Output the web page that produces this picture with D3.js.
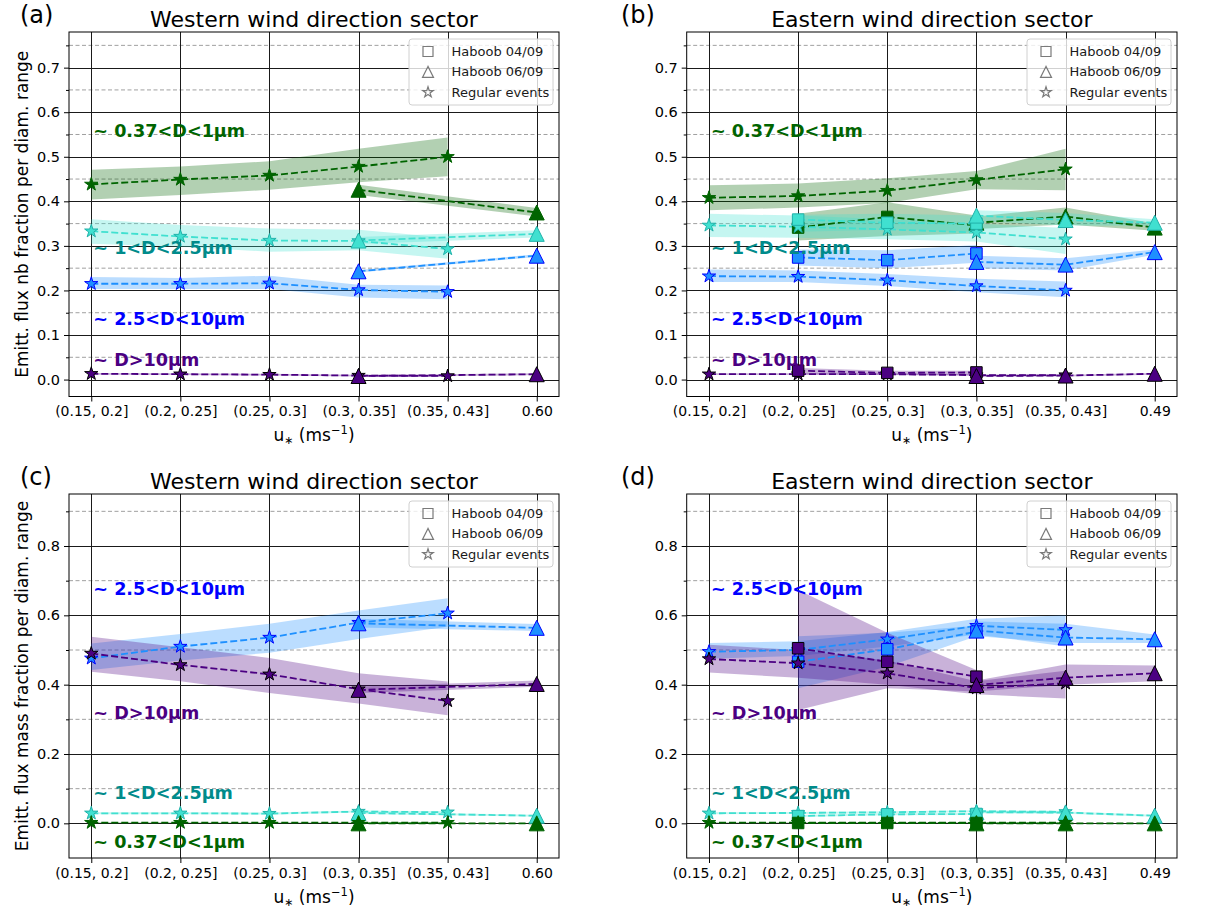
<!DOCTYPE html>
<html><head><meta charset="utf-8">
<script src="https://cdn.jsdelivr.net/npm/d3@7"></script>
<style>
body{margin:0;background:#fff;}
text{font-family:"DejaVu Sans",sans-serif;}
</style>
</head><body>
<svg id="fig" width="1214" height="911"></svg>
<script>
// ---------------- DATA ----------------
const categoriesWest = ["(0.15, 0.2]", "(0.2, 0.25]", "(0.25, 0.3]", "(0.3, 0.35]", "(0.35, 0.43]", "0.60"];
const categoriesEast = ["(0.15, 0.2]", "(0.2, 0.25]", "(0.25, 0.3]", "(0.3, 0.35]", "(0.35, 0.43]", "0.49"];
const yTicksNumber = [0.0, 0.1, 0.2, 0.3, 0.4, 0.5, 0.6, 0.7];
const yMinorNumber = [0.05, 0.15, 0.25, 0.35, 0.45, 0.55, 0.65, 0.75];
const yTicksMass = [0.0, 0.2, 0.4, 0.6, 0.8];
const yMinorMass = [0.1, 0.3, 0.5, 0.7, 0.9];
const classLabels = ["~ 0.37<D<1µm", "~ 1<D<2.5µm", "~ 2.5<D<10µm", "~ D>10µm"];
const eventNames = ["Haboob 04/09", "Haboob 06/09", "Regular events"];
// label anchor (data y) per size class
const labelYNumber = [0.557, 0.295, 0.135, 0.043];
const labelYMass = [-0.055, 0.087, 0.676, 0.317];

// cls: 0=0.37-1, 1=1-2.5, 2=2.5-10, 3=>10 ; ev: 0=Haboob 04/09 (square), 1=Haboob 06/09 (triangle), 2=Regular (star)
const numberWest = [
  {cls:0, ev:2, x:[0,1,2,3,4], v:[0.438,0.449,0.458,0.478,0.500], lo:[0.404,0.414,0.426,0.443,0.456], hi:[0.471,0.478,0.490,0.518,0.543]},
  {cls:0, ev:1, x:[3,5], v:[0.426,0.375], lo:[0.414,0.366], hi:[0.437,0.385]},
  {cls:1, ev:2, x:[0,1,2,3,4], v:[0.333,0.321,0.312,0.311,0.293], lo:[0.305,0.298,0.287,0.290,0.271], hi:[0.360,0.347,0.339,0.336,0.318]},
  {cls:1, ev:1, x:[3,5], v:[0.312,0.327], lo:[0.304,0.319], hi:[0.320,0.335]},
  {cls:2, ev:2, x:[0,1,2,3,4], v:[0.215,0.215,0.216,0.201,0.197], lo:[0.203,0.203,0.203,0.184,0.180], hi:[0.230,0.228,0.233,0.213,0.211]},
  {cls:2, ev:1, x:[3,5], v:[0.243,0.278], lo:[0.240,0.275], hi:[0.246,0.281]},
  {cls:3, ev:2, x:[0,1,2,3,4], v:[0.013,0.012,0.011,0.009,0.008], lo:[0.011,0.010,0.009,0.007,0.006], hi:[0.015,0.014,0.013,0.011,0.010]},
  {cls:3, ev:1, x:[3,5], v:[0.008,0.012], lo:[0.006,0.010], hi:[0.010,0.014]}
];
const numberEast = [
  {cls:0, ev:2, x:[0,1,2,3,4], v:[0.408,0.412,0.424,0.448,0.472], lo:[0.380,0.386,0.396,0.427,0.425], hi:[0.436,0.440,0.452,0.468,0.518]},
  {cls:0, ev:0, x:[1,2,3], v:[0.341,0.365,0.346], lo:[0.312,0.322,0.328], hi:[0.372,0.398,0.368]},
  {cls:0, ev:1, x:[3,4,5], v:[0.352,0.366,0.341], lo:[0.338,0.348,0.334], hi:[0.366,0.386,0.350]},
  {cls:1, ev:2, x:[0,1,2,3,4], v:[0.346,0.343,0.337,0.330,0.315], lo:[0.320,0.318,0.315,0.310,0.282], hi:[0.372,0.368,0.360,0.350,0.340]},
  {cls:1, ev:0, x:[1,2,3], v:[0.359,0.352,0.350], lo:[0.332,0.336,0.332], hi:[0.370,0.372,0.368]},
  {cls:1, ev:1, x:[3,4,5], v:[0.368,0.358,0.352], lo:[0.356,0.346,0.345], hi:[0.380,0.374,0.360]},
  {cls:2, ev:2, x:[0,1,2,3,4], v:[0.232,0.231,0.223,0.210,0.200], lo:[0.219,0.219,0.210,0.196,0.185], hi:[0.247,0.245,0.237,0.226,0.220]},
  {cls:2, ev:0, x:[1,2,3], v:[0.274,0.268,0.283], lo:[0.256,0.250,0.262], hi:[0.292,0.290,0.302]},
  {cls:2, ev:1, x:[3,4,5], v:[0.264,0.258,0.286], lo:[0.250,0.245,0.280], hi:[0.278,0.272,0.292]},
  {cls:3, ev:2, x:[0,1,2,3,4], v:[0.012,0.012,0.012,0.010,0.010], lo:[0.010,0.010,0.010,0.008,0.008], hi:[0.014,0.014,0.014,0.012,0.012]},
  {cls:3, ev:0, x:[1,2,3], v:[0.020,0.015,0.016], lo:[0.012,0.010,0.010], hi:[0.026,0.020,0.020]},
  {cls:3, ev:1, x:[3,4,5], v:[0.008,0.009,0.013], lo:[0.006,0.007,0.011], hi:[0.010,0.011,0.015]}
];
const massWest = [
  {cls:2, ev:2, x:[0,1,2,3,4], v:[0.476,0.510,0.536,0.579,0.606], lo:[0.442,0.470,0.492,0.532,0.567], hi:[0.519,0.546,0.576,0.614,0.649]},
  {cls:2, ev:1, x:[3,5], v:[0.577,0.564], lo:[0.565,0.555], hi:[0.590,0.575]},
  {cls:3, ev:2, x:[0,1,2,3,4], v:[0.490,0.457,0.430,0.387,0.353], lo:[0.437,0.410,0.376,0.346,0.312], hi:[0.538,0.508,0.477,0.433,0.409]},
  {cls:3, ev:1, x:[3,5], v:[0.385,0.402], lo:[0.376,0.394], hi:[0.395,0.412]},
  {cls:1, ev:2, x:[0,1,2,3,4], v:[0.029,0.029,0.028,0.034,0.032], lo:[0.026,0.026,0.025,0.031,0.029], hi:[0.032,0.032,0.031,0.037,0.035]},
  {cls:1, ev:1, x:[3,5], v:[0.030,0.022], lo:[0.027,0.019], hi:[0.033,0.025]},
  {cls:0, ev:2, x:[0,1,2,3,4], v:[0.002,0.002,0.002,0.002,0.002], lo:[0.001,0.001,0.001,0.001,0.001], hi:[0.003,0.003,0.003,0.003,0.003]},
  {cls:0, ev:1, x:[3,5], v:[0.000,0.000], lo:[0.000,0.000], hi:[0.001,0.001]}
];
const massEast = [
  {cls:2, ev:2, x:[0,1,2,3,4], v:[0.495,0.500,0.531,0.570,0.558], lo:[0.475,0.483,0.510,0.545,0.510], hi:[0.520,0.525,0.552,0.590,0.600]},
  {cls:2, ev:0, x:[1,2,3], v:[0.466,0.502,0.553], lo:[0.390,0.452,0.540], hi:[0.540,0.550,0.570]},
  {cls:2, ev:1, x:[3,4,5], v:[0.556,0.536,0.531], lo:[0.540,0.520,0.520], hi:[0.582,0.576,0.545]},
  {cls:3, ev:2, x:[0,1,2,3,4], v:[0.474,0.462,0.433,0.390,0.404], lo:[0.435,0.420,0.400,0.372,0.360], hi:[0.515,0.500,0.470,0.410,0.440]},
  {cls:3, ev:0, x:[1,2,3], v:[0.505,0.466,0.423], lo:[0.327,0.390,0.380], hi:[0.673,0.550,0.442]},
  {cls:3, ev:1, x:[3,4,5], v:[0.399,0.420,0.433], lo:[0.380,0.400,0.410], hi:[0.412,0.458,0.455]},
  {cls:1, ev:2, x:[0,1,2,3,4], v:[0.029,0.030,0.032,0.035,0.033], lo:[0.026,0.027,0.029,0.032,0.030], hi:[0.032,0.033,0.035,0.038,0.036]},
  {cls:1, ev:0, x:[1,2,3], v:[0.021,0.026,0.027], lo:[0.018,0.023,0.024], hi:[0.024,0.029,0.030]},
  {cls:1, ev:1, x:[3,4,5], v:[0.032,0.031,0.022], lo:[0.029,0.028,0.019], hi:[0.035,0.034,0.025]},
  {cls:0, ev:2, x:[0,1,2,3,4], v:[0.002,0.002,0.002,0.002,0.002], lo:[0.001,0.001,0.001,0.001,0.001], hi:[0.003,0.003,0.003,0.003,0.003]},
  {cls:0, ev:0, x:[1,2,3], v:[0.001,0.001,0.001], lo:[0.000,0.000,0.000], hi:[0.002,0.002,0.002]},
  {cls:0, ev:1, x:[3,4,5], v:[0.000,0.000,0.000], lo:[0.000,0.000,0.000], hi:[0.001,0.001,0.001]}
];

// ---------------- STYLE / LAYOUT ----------------
const classStyle = [
  {line:"#006400", fill:"#006400", edge:"#006400", text:"#006400"},
  {line:"#40E0D0", fill:"#40E0D0", edge:"#20B2AA", text:"#008B8B"},
  {line:"#1E90FF", fill:"#1E90FF", edge:"#0000FF", text:"#0000FF"},
  {line:"#4B0082", fill:"#4B0082", edge:"#000000", text:"#4B0082"}
];
const panels = [
  {tag:"(a)", tagX:20, title:"Western wind direction sector", cats:categoriesWest, series:numberWest,
   L:69, R:559, T:32, B:396.5, yDom:[-0.038,0.78], ticks:yTicksNumber, minor:yMinorNumber, fmt:".1f",
   ylabel:"Emitt. flux nb fraction per diam. range", labelY:labelYNumber},
  {tag:"(b)", tagX:621, title:"Eastern wind direction sector", cats:categoriesEast, series:numberEast,
   L:686.7, R:1177, T:32, B:396.5, yDom:[-0.038,0.78], ticks:yTicksNumber, minor:yMinorNumber, fmt:".1f",
   ylabel:null, labelY:labelYNumber},
  {tag:"(c)", tagX:20, title:"Western wind direction sector", cats:categoriesWest, series:massWest,
   L:69, R:559, T:494, B:858, yDom:[-0.1,0.95], ticks:yTicksMass, minor:yMinorMass, fmt:".1f",
   ylabel:"Emitt. flux mass fraction per diam. range", labelY:labelYMass},
  {tag:"(d)", tagX:621, title:"Eastern wind direction sector", cats:categoriesEast, series:massEast,
   L:686.7, R:1177, T:494, B:858, yDom:[-0.1,0.95], ticks:yTicksMass, minor:yMinorMass, fmt:".1f",
   ylabel:null, labelY:labelYMass}
];

function markerPath(ev, s) {
  if (ev === 0) { // square
    const h = s.sq/2;
    return `M${-h},${-h}L${h},${-h}L${h},${h}L${-h},${h}Z`;
  } else if (ev === 1) { // triangle up
    const h = s.tri/2;
    return `M0,${-h}L${-h},${h}L${h},${h}Z`;
  } else { // star
    const R = s.star, r = R*0.381966;
    let p = "";
    for (let i=0;i<10;i++){
      const a = -Math.PI/2 + i*Math.PI/5;
      const rr = i%2===0 ? R : r;
      p += (i===0?"M":"L") + (rr*Math.cos(a)).toFixed(2) + "," + (rr*Math.sin(a)).toFixed(2);
    }
    return p + "Z";
  }
}
const mSize = {sq:11.5, tri:15, star:7};
const legSize = {sq:10, tri:11, star:5.5};

const svg = d3.select("#fig");
svg.append("rect").attr("width",1214).attr("height",911).attr("fill","#fff");

panels.forEach(P => {
  const g = svg.append("g");
  const x = d3.scaleLinear().domain([-0.25, 5.25]).range([P.L, P.R]);
  const y = d3.scaleLinear().domain(P.yDom).range([P.B, P.T]);

  // grid
  const grid = g.append("g");
  grid.selectAll("line.minor").data(P.minor).join("line")
    .attr("x1",P.L).attr("x2",P.R).attr("y1",d=>y(d)).attr("y2",d=>y(d))
    .attr("stroke","#a0a0a0").attr("stroke-width",1).attr("stroke-dasharray","4,2.5");
  grid.selectAll("line.major").data(P.ticks).join("line")
    .attr("x1",P.L).attr("x2",P.R).attr("y1",d=>Math.round(y(d))+0.5).attr("y2",d=>Math.round(y(d))+0.5)
    .attr("stroke","#1a1a1a").attr("stroke-width",1);
  grid.selectAll("line.vert").data(d3.range(P.cats.length)).join("line")
    .attr("x1",d=>Math.round(x(d))+0.5).attr("x2",d=>Math.round(x(d))+0.5).attr("y1",P.T).attr("y2",P.B)
    .attr("stroke","#1a1a1a").attr("stroke-width",1);

  const clipId = "clip"+P.tag.replace(/\W/g,"");
  svg.append("defs").append("clipPath").attr("id",clipId)
    .append("rect").attr("x",P.L).attr("y",P.T).attr("width",P.R-P.L).attr("height",P.B-P.T);
  const plot = g.append("g").attr("clip-path",`url(#${clipId})`);

  // bands
  const area = d3.area().x(d=>x(d.x)).y0(d=>y(d.lo)).y1(d=>y(d.hi));
  P.series.forEach(S => {
    const pts = S.x.map((xi,i)=>({x:xi, lo:S.lo[i], hi:S.hi[i]}));
    plot.append("path").attr("d", area(pts))
      .attr("fill", classStyle[S.cls].line).attr("fill-opacity",0.3);
  });
  // lines
  const line = d3.line().x(d=>x(d.x)).y(d=>y(d.v));
  P.series.forEach(S => {
    const pts = S.x.map((xi,i)=>({x:xi, v:S.v[i]}));
    plot.append("path").attr("d", line(pts)).attr("fill","none")
      .attr("stroke", classStyle[S.cls].line).attr("stroke-width",1.8)
      .attr("stroke-dasharray","7,3");
  });
  // markers
  P.series.forEach(S => {
    const st = classStyle[S.cls];
    plot.selectAll(null).data(S.x.map((xi,i)=>({x:xi, v:S.v[i]}))).join("path")
      .attr("transform", d=>`translate(${x(d.x)},${y(d.v)})`)
      .attr("d", markerPath(S.ev, mSize))
      .attr("fill", st.fill).attr("stroke", st.edge).attr("stroke-width",1);
  });
  // class labels
  classLabels.forEach((lab,i) => {
    g.append("text").attr("x", x(0)+2).attr("y", y(P.labelY[i]))
      .attr("dominant-baseline","central")
      .attr("font-size","17.6px").attr("font-weight","bold")
      .attr("fill", classStyle[i].text).text(lab);
  });

  // legend
  const lg = g.append("g");
  const lw = 144, lh = 66, lx = P.R - 6 - lw, ly = P.T + 7;
  lg.append("rect").attr("x",lx).attr("y",ly).attr("width",lw).attr("height",lh).attr("rx",3)
    .attr("fill","#fff").attr("fill-opacity",0.8).attr("stroke","#d0d0d0").attr("stroke-width",1);
  eventNames.forEach((nm,i) => {
    const cy = ly + 12.5 + i*20.4;
    lg.append("path").attr("transform",`translate(${lx+19},${cy})`)
      .attr("d", markerPath(i, legSize)).attr("fill","none").attr("stroke","#7a7a7a").attr("stroke-width",1.2);
    lg.append("text").attr("x", lx+42.5).attr("y", cy).attr("dominant-baseline","central")
      .attr("font-size","13px").attr("fill","#1a1a1a").text(nm);
  });

  // axes
  const yAxis = d3.axisLeft(y).tickValues(P.ticks).tickSize(5).tickPadding(4).tickFormat(d3.format(P.fmt));
  const ya = g.append("g").attr("transform",`translate(${P.L},0)`).call(yAxis);
  ya.select(".domain").remove();
  ya.selectAll("text").attr("font-size","14.5px").attr("font-family","DejaVu Sans").attr("fill","#000");
  const yMin = d3.axisLeft(y).tickValues(P.minor).tickSize(3).tickFormat("");
  const ym = g.append("g").attr("transform",`translate(${P.L},0)`).call(yMin);
  ym.select(".domain").remove();

  const xAxis = d3.axisBottom(x).tickValues(d3.range(P.cats.length)).tickSize(5).tickPadding(5).tickFormat(i=>P.cats[i]);
  const xa = g.append("g").attr("transform",`translate(0,${P.B})`).call(xAxis);
  xa.select(".domain").remove();
  xa.selectAll("text").attr("font-size","14px").attr("font-family","DejaVu Sans").attr("fill","#000");

  g.append("rect").attr("x",P.L).attr("y",P.T).attr("width",P.R-P.L).attr("height",P.B-P.T)
    .attr("fill","none").attr("stroke","#000").attr("stroke-width",1);

  // x label
  const xl = g.append("text").attr("x",(P.L+P.R)/2).attr("y",P.B+44.5).attr("text-anchor","middle")
    .attr("font-size","17px").attr("fill","#000");
  xl.append("tspan").text("u");
  xl.append("tspan").attr("font-size","11px").attr("dy","3").text("∗");
  xl.append("tspan").attr("dy","-3").text(" (ms");
  xl.append("tspan").attr("font-size","11.5px").attr("dy","-7").text("−1");
  xl.append("tspan").attr("dy","7").text(")");

  // y label
  if (P.ylabel) {
    g.append("text").attr("transform",`translate(27.5,${(P.T+P.B)/2}) rotate(-90)`)
      .attr("text-anchor","middle").attr("font-size","17px").attr("fill","#000").text(P.ylabel);
  }
  // title + tag
  g.append("text").attr("x",(P.L+P.R)/2).attr("y",P.T-5).attr("text-anchor","middle")
    .attr("font-size","22px").attr("fill","#000").text(P.title);
  g.append("text").attr("x",P.tagX).attr("y",P.T-9).attr("font-size","24px").attr("fill","#000").text(P.tag);
});
</script>
</body></html>
